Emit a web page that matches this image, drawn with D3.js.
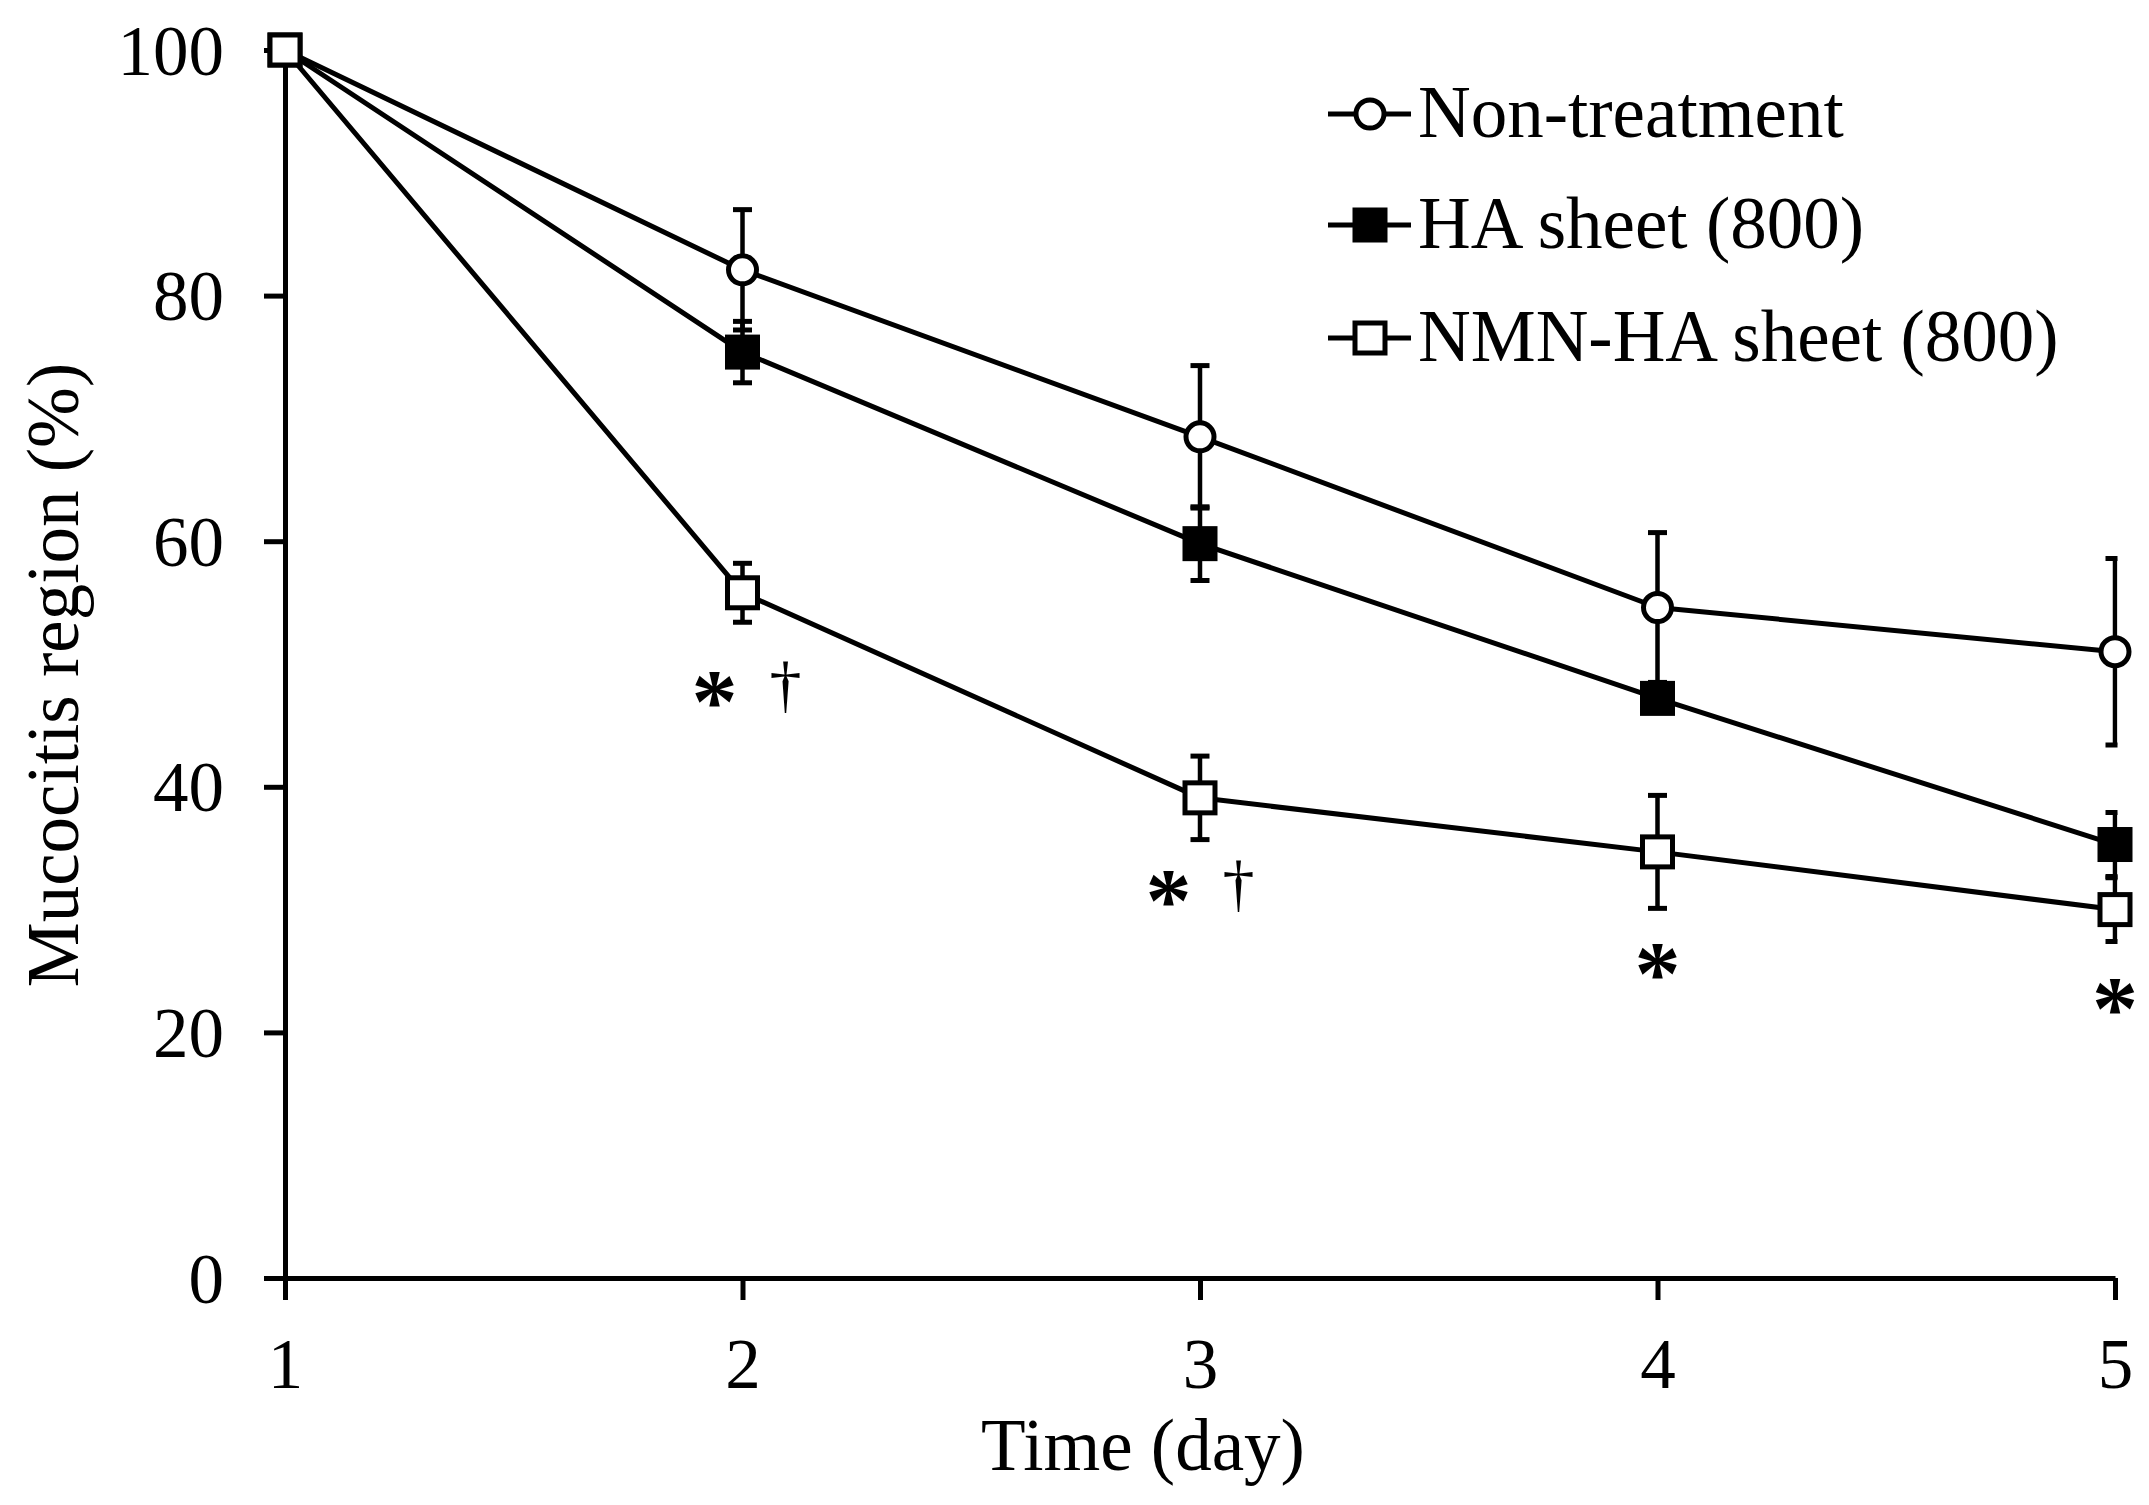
<!DOCTYPE html>
<html>
<head>
<meta charset="utf-8">
<script src="https://cdn.jsdelivr.net/npm/d3@7/dist/d3.min.js"></script>
<style>
  html, body { margin: 0; padding: 0; background: #fff; }
  svg { display: block; }
  text { font-family: "Liberation Serif", "Times New Roman", serif; fill: #000; }
</style>
</head>
<body>
<svg id="chart" width="2149" height="1505"></svg>
<script>
// ---------- data ----------
const days = [1, 2, 3, 4, 5];
const seriesNames = ["Non-treatment", "HA sheet (800)", "NMN-HA sheet (800)"];
const nonTreatMean = [100, 82.1, 68.5, 54.6, 51.0];
const nonTreatSD   = [0, 4.9, 5.8, 6.1, 7.6];
const haMean       = [100, 75.4, 59.8, 47.2, 35.3];
const haSD         = [0, 2.5, 3.0, 1.0, 2.6];
const nmnMean      = [100, 55.8, 39.1, 34.7, 30.0];
const nmnSD        = [0, 2.4, 3.4, 4.6, 2.6];
const yTicks = [0, 20, 40, 60, 80, 100];
const xTicks = [1, 2, 3, 4, 5];
const xTitle = "Time (day)";
const yTitle = "Mucocitis region (%)";
// significance marks (x in days, y in %)
const sigMarks = [
  { day: 1.939, value: 48.0, text: "*" },
  { day: 2.094, value: 47.9, text: "\u2020" },
  { day: 2.931, value: 31.8, text: "*" },
  { day: 3.084, value: 31.7, text: "\u2020" },
  { day: 4.0,   value: 25.8, text: "*" },
  { day: 5.0,   value: 23.0, text: "*" }
];

// ---------- layout ----------
const svg = d3.select("#chart");
const x = d3.scaleLinear().domain([1, 5]).range([285, 2115]);
const y = d3.scaleLinear().domain([0, 100]).range([1278, 50]);

const series = [
  { name: seriesNames[0], mean: nonTreatMean, sd: nonTreatSD, shape: "circle", fill: "#fff" },
  { name: seriesNames[1], mean: haMean, sd: haSD, shape: "square", fill: "#000" },
  { name: seriesNames[2], mean: nmnMean, sd: nmnSD, shape: "square", fill: "#fff" }
];

// ---------- axes ----------
const yAxis = svg.append("g")
  .attr("transform", `translate(${x(1)},0)`)
  .call(d3.axisLeft(y).tickValues(yTicks).tickSize(21).tickSizeOuter(0).tickPadding(40));
const xAxis = svg.append("g")
  .attr("transform", `translate(0,${y(0)})`)
  .call(d3.axisBottom(x).tickValues(xTicks).tickSize(22).tickSizeOuter(0).tickFormat(d3.format("d")));

[yAxis, xAxis].forEach(g => {
  g.select(".domain").attr("stroke", "#000").attr("stroke-width", 5);
  g.selectAll(".tick line").attr("stroke", "#000").attr("stroke-width", 5);
  g.selectAll(".tick text").attr("font-size", 71).attr("font-family", "Liberation Serif").attr("fill", "#000");
});
yAxis.selectAll(".tick text").attr("dy", 24).attr("x", -61);
xAxis.selectAll(".tick text").attr("dy", 0).attr("y", 110);

// axis titles
svg.append("text")
  .attr("x", 1143).attr("y", 1470)
  .attr("text-anchor", "middle")
  .attr("font-size", 73)
  .text(xTitle);
svg.append("text")
  .attr("transform", `translate(78,675) rotate(-90)`)
  .attr("text-anchor", "middle")
  .attr("font-size", 73)
  .text(yTitle);

// ---------- clip for error bars (right edge of plot) ----------
svg.append("defs").append("clipPath").attr("id", "plotclip")
  .append("rect").attr("x", 0).attr("y", 0).attr("width", x(5) + 2.5).attr("height", 1505);

// ---------- lines ----------
const line = d3.line().x((d, i) => x(days[i])).y(d => y(d));
series.forEach(s => {
  svg.append("path")
    .attr("d", line(s.mean))
    .attr("fill", "none")
    .attr("stroke", "#000")
    .attr("stroke-width", 5)
    .attr("stroke-linejoin", "round");
});

// ---------- error bars ----------
const ebG = svg.append("g").attr("clip-path", "url(#plotclip)");
const capHalf = 9.5;
series.forEach(s => {
  s.mean.forEach((m, i) => {
    const sd = s.sd[i];
    if (!sd) return;
    const cx = x(days[i]);
    ebG.append("line")
      .attr("x1", cx).attr("x2", cx)
      .attr("y1", y(m - sd)).attr("y2", y(m + sd))
      .attr("stroke", "#000").attr("stroke-width", 4.5);
    [m - sd, m + sd].forEach(v => {
      ebG.append("line")
        .attr("x1", cx - capHalf).attr("x2", cx + capHalf)
        .attr("y1", y(v)).attr("y2", y(v))
        .attr("stroke", "#000").attr("stroke-width", 5);
    });
  });
});

// ---------- markers ----------
function drawMarker(g, shape, fill, cx, cy) {
  if (shape === "circle") {
    g.append("circle").attr("cx", cx).attr("cy", cy).attr("r", 14)
      .attr("fill", fill).attr("stroke", "#000").attr("stroke-width", 5);
  } else {
    const s = 30;
    g.append("rect").attr("x", cx - s / 2).attr("y", cy - s / 2)
      .attr("width", s).attr("height", s)
      .attr("fill", fill).attr("stroke", "#000").attr("stroke-width", 5);
  }
}
const mkG = svg.append("g");
series.forEach(s => {
  s.mean.forEach((m, i) => drawMarker(mkG, s.shape, s.fill, x(days[i]), y(m)));
});

// ---------- significance marks ----------
sigMarks.forEach(d => {
  const isStar = d.text === "*";
  const fs = isStar ? 92 : 64;
  const off = isStar ? 0.47 * fs : 0.26 * fs;
  svg.append("text")
    .attr("x", x(d.day))
    .attr("y", y(d.value) + off)
    .attr("text-anchor", "middle")
    .attr("font-size", fs)
    .attr("font-weight", isStar ? "bold" : "normal")
    .text(d.text);
});

// ---------- legend ----------
const legendRowsY = [114, 225, 338];
const lg = svg.append("g");
series.forEach((s, i) => {
  const cy = legendRowsY[i];
  lg.append("line").attr("x1", 1328).attr("x2", 1411).attr("y1", cy).attr("y2", cy)
    .attr("stroke", "#000").attr("stroke-width", 5);
  drawMarker(lg, s.shape, s.fill, 1370, cy);
  lg.append("text").attr("x", 1418).attr("y", cy + 23)
    .attr("font-size", 73).text(s.name);
});
</script>
</body>
</html>
